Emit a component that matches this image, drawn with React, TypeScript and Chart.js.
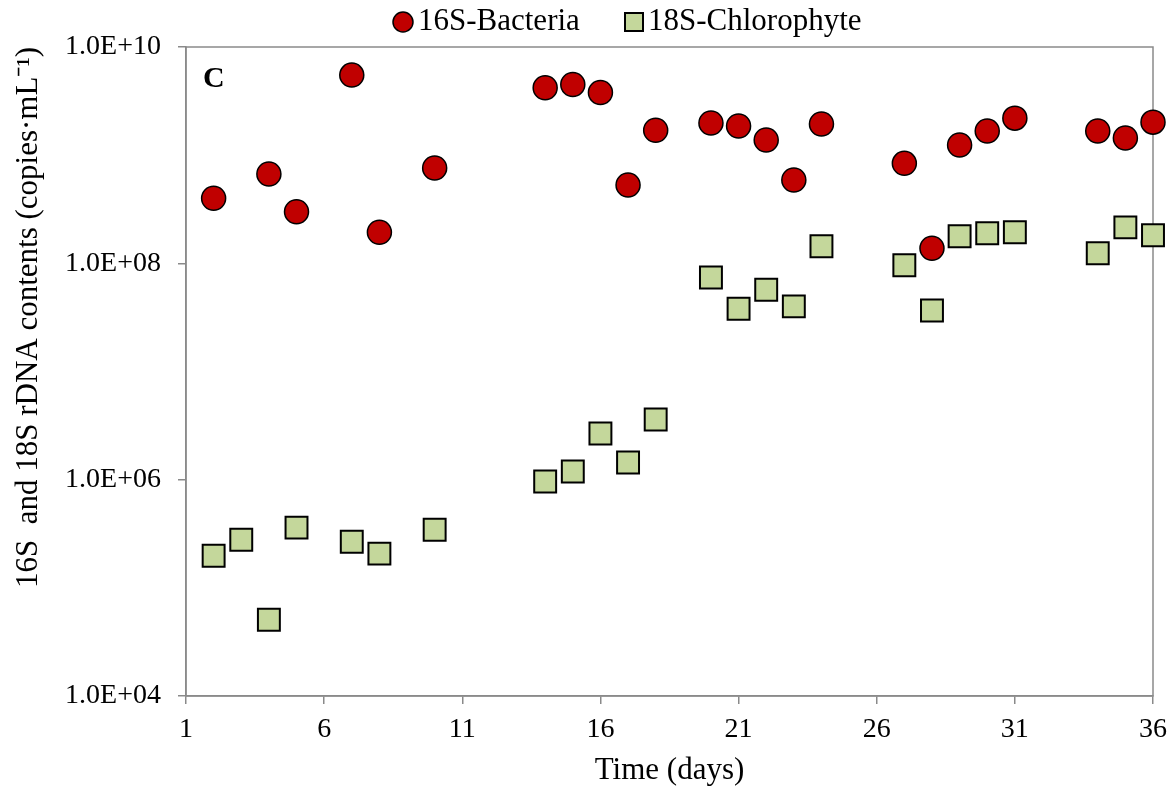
import { useEffect, useRef } from "react";
import { Chart, registerables } from "chart.js";

Chart.register(...registerables);

const days16S = [2, 4, 5, 7, 8, 10, 14, 15, 16, 17, 18, 20, 21, 22, 23, 24, 27, 28, 29, 30, 31, 34, 35, 36];
const bacteria16S = [4.0e8, 6.7e8, 3.0e8, 5.5e9, 1.94e8, 7.6e8, 4.2e9, 4.5e9, 3.8e9, 5.3e8, 1.7e9, 1.98e9, 1.86e9, 1.38e9, 5.9e8, 1.94e9, 8.4e8, 1.38e8, 1.24e9, 1.67e9, 2.2e9, 1.67e9, 1.44e9, 2.02e9];
const days18S = [2, 3, 4, 5, 7, 8, 10, 14, 15, 16, 17, 18, 20, 21, 22, 23, 24, 27, 28, 29, 30, 31, 34, 35, 36];
const chlorophyte18S = [1.98e5, 2.78e5, 5.06e4, 3.6e5, 2.67e5, 2.07e5, 3.44e5, 9.6e5, 1.19e6, 2.67e6, 1.44e6, 3.6e6, 7.4e7, 3.8e7, 5.7e7, 4.0e7, 1.44e8, 9.6e7, 3.67e7, 1.78e8, 1.9e8, 1.94e8, 1.24e8, 2.15e8, 1.82e8];
const xTicks = [1, 6, 11, 16, 21, 26, 31, 36];
const yTicks = [1e4, 1e6, 1e8, 1e10];
const seriesNames = ["16S-Bacteria", "18S-Chlorophyte"];
const panelLabel = "C";
const xTitle = "Time (days)";
const yTitle = "16S  and 18S rDNA contents (copies·mL⁻¹)";

const FONT = "'Liberation Serif', 'Times New Roman', serif";
const RED = "#C00000";
const GREEN = "#C4D79B";
const AXIS = "#8a8a8a";

function fmtExp(v: number): string {
  const e = Math.round(Math.log10(v));
  const m = v / Math.pow(10, e);
  const es = (e < 0 ? "-" : "+") + String(Math.abs(e)).padStart(2, "0");
  return m.toFixed(1) + "E" + es;
}

const framePlugin = {
  id: "frame",
  beforeDatasetsDraw(chart: any) {
    const { ctx, chartArea } = chart;
    ctx.save();
    ctx.strokeStyle = AXIS;
    ctx.lineWidth = 1.5;
    ctx.strokeRect(chartArea.left, chartArea.top, chartArea.right - chartArea.left, chartArea.bottom - chartArea.top);
    ctx.restore();
  },
};

const decorPlugin = {
  id: "decor",
  afterDraw(chart: any) {
    const { ctx, chartArea } = chart;
    ctx.save();
    ctx.fillStyle = "#000";
    ctx.font = "bold 30px " + FONT;
    ctx.textAlign = "left";
    ctx.textBaseline = "alphabetic";
    ctx.fillText(panelLabel, chartArea.left + 17, chartArea.top + 40);
    ctx.font = "31px " + FONT;
    ctx.beginPath();
    ctx.arc(403, 22, 10, 0, Math.PI * 2);
    ctx.fillStyle = RED;
    ctx.fill();
    ctx.lineWidth = 1.5;
    ctx.strokeStyle = "#000";
    ctx.stroke();
    ctx.fillStyle = "#000";
    ctx.fillText(seriesNames[0], 418, 30);
    ctx.fillStyle = GREEN;
    ctx.fillRect(625, 13, 18, 18);
    ctx.lineWidth = 2;
    ctx.strokeStyle = "#000";
    ctx.strokeRect(625, 13, 18, 18);
    ctx.fillStyle = "#000";
    ctx.fillText(seriesNames[1], 648, 30);
    ctx.restore();
  },
};

export default function App() {
  const ref = useRef<HTMLCanvasElement | null>(null);

  useEffect(() => {
    document.body.style.margin = "0";
    const canvas = ref.current;
    if (!canvas) return;
    const chart = new Chart(canvas, {
      type: "scatter",
      data: {
        datasets: [
          {
            label: seriesNames[0],
            data: days16S.map((d, i) => ({ x: d, y: bacteria16S[i] })),
            backgroundColor: RED,
            borderColor: "#000",
            borderWidth: 1.5,
            pointStyle: "circle",
            pointRadius: 12,
            pointHoverRadius: 12,
            clip: false,
            order: 1,
          },
          {
            label: seriesNames[1],
            data: days18S.map((d, i) => ({ x: d, y: chlorophyte18S[i] })),
            backgroundColor: GREEN,
            borderColor: "#000",
            borderWidth: 2,
            pointStyle: "rect",
            pointRadius: 15.5,
            pointHoverRadius: 15.5,
            clip: false,
            order: 2,
          },
        ],
      },
      options: {
        responsive: false,
        animation: false,
        events: [],
        layout: { padding: { top: 47, right: 20, bottom: 0, left: 0 } },
        plugins: { legend: { display: false }, tooltip: { enabled: false } },
        scales: {
          x: {
            type: "linear",
            min: 1,
            max: 36,
            afterBuildTicks: (s: any) => {
              s.ticks = xTicks.map((v) => ({ value: v }));
            },
            afterFit: (s: any) => {
              s.height = 93;
              s.paddingLeft = 0;
              s.paddingRight = 0;
            },
            grid: { display: true, drawOnChartArea: false, drawTicks: true, tickLength: 8, color: AXIS, lineWidth: 1.5 },
            border: { display: true, color: AXIS, width: 1.5 },
            ticks: { color: "#000", font: { family: FONT, size: 28 }, padding: 9, maxRotation: 0, autoSkip: false },
            title: { display: true, text: xTitle, color: "#000", font: { family: FONT, size: 31 }, padding: { top: 0, bottom: 0 } },
          },
          y: {
            type: "logarithmic",
            min: 1e4,
            max: 1e10,
            afterBuildTicks: (s: any) => {
              s.ticks = yTicks.map((v) => ({ value: v }));
            },
            afterFit: (s: any) => {
              s.width = 186;
              s.paddingTop = 0;
              s.paddingBottom = 0;
            },
            grid: { display: true, drawOnChartArea: false, drawTicks: true, tickLength: 8, color: AXIS, lineWidth: 1.5 },
            border: { display: true, color: AXIS, width: 1.5 },
            ticks: {
              color: "#000",
              font: { family: FONT, size: 28 },
              padding: 17,
              autoSkip: false,
              callback: (v: any) => fmtExp(Number(v)),
            },
            title: { display: true, text: yTitle, align: "end", color: "#000", font: { family: FONT, size: 31 }, padding: { top: 10, bottom: 0 } },
          },
        },
      },
      plugins: [framePlugin, decorPlugin],
    } as any);
    return () => chart.destroy();
  }, []);

  return (
    <div style={{ width: 1173, height: 789 }}>
      <canvas ref={ref} width={1173} height={789} />
    </div>
  );
}
